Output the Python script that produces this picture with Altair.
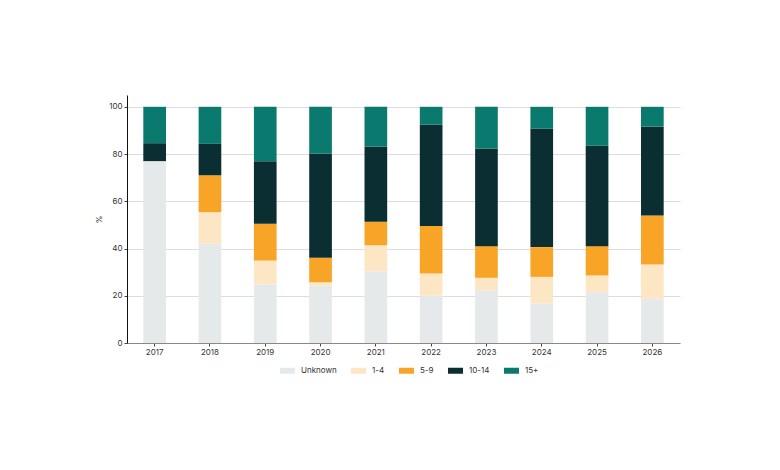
import altair as alt
import pandas as pd

years = ["2017", "2018", "2019", "2020", "2021", "2022", "2023", "2024", "2025", "2026"]
categories = ["Unknown", "1-4", "5-9", "10-14", "15+"]
unknown = [77.0, 42.1, 24.8, 24.3, 30.4, 20.1, 22.2, 16.7, 21.5, 18.7]
c1_4 = [0.0, 13.3, 10.1, 1.4, 11.0, 9.3, 5.4, 11.3, 7.1, 14.5]
c5_9 = [0.0, 15.6, 15.6, 10.4, 9.9, 20.1, 13.4, 12.6, 12.4, 20.8]
c10_14 = [7.6, 13.3, 26.4, 44.0, 31.9, 43.0, 41.3, 50.2, 42.5, 37.7]
c15 = [15.4, 15.7, 23.1, 19.9, 16.8, 7.5, 17.7, 9.2, 16.5, 8.3]
colors = ["#e6e9ea", "#fde6c4", "#f8a426", "#0b2e33", "#0b7a6e"]

series = [unknown, c1_4, c5_9, c10_14, c15]
rows = []
for ci, (cat, vals) in enumerate(zip(categories, series)):
    for y, v in zip(years, vals):
        rows.append({"year": y, "cat": cat, "order": ci, "value": v})
df = pd.DataFrame(rows)

font = "Inter"

chart = alt.Chart(df).mark_bar().encode(
    x=alt.X("year:N", title=None,
            scale=alt.Scale(paddingInner=0.59, paddingOuter=0.295),
            axis=alt.Axis(labelAngle=0, domainColor="#888888", tickColor="#444444",
                          tickSize=3, labelPadding=2, labelFontSize=8,
                          labelColor="#333333", labelFont=font, grid=False)),
    y=alt.Y("value:Q", title="%", stack="zero",
            scale=alt.Scale(domain=[0, 105], nice=False),
            axis=alt.Axis(values=[0, 20, 40, 60, 80, 100], domainColor="#111111",
                          tickColor="#444444", tickSize=3, labelPadding=2,
                          labelFontSize=8, labelColor="#333333", labelFont=font,
                          gridColor="#dddddd", titleFontSize=8, titleFont=font,
                          titleFontWeight="normal", titleColor="#333333",
                          titlePadding=5)),
    color=alt.Color("cat:N", sort=categories,
                    scale=alt.Scale(domain=categories, range=colors),
                    legend=alt.Legend(title=None, orient="none", direction="horizontal",
                                      legendX=153, legendY=268,
                                      symbolType="M-1,-0.4L1,-0.4L1,0.4L-1,0.4Z",
                                      symbolSize=225, symbolStrokeWidth=0,
                                      labelFontSize=8, labelFont=font,
                                      labelColor="#333333", columnPadding=14,
                                      labelOffset=6)),
    order=alt.Order("order:Q", sort="ascending"),
).properties(
    width=553, height=248,
    autosize=alt.AutoSizeParams(type="none"),
    padding={"left": 119, "top": 87, "right": 60, "bottom": 100},
).configure_view(stroke=None)

chart.save("out.html", embed_options={"renderer": "svg", "actions": False})
